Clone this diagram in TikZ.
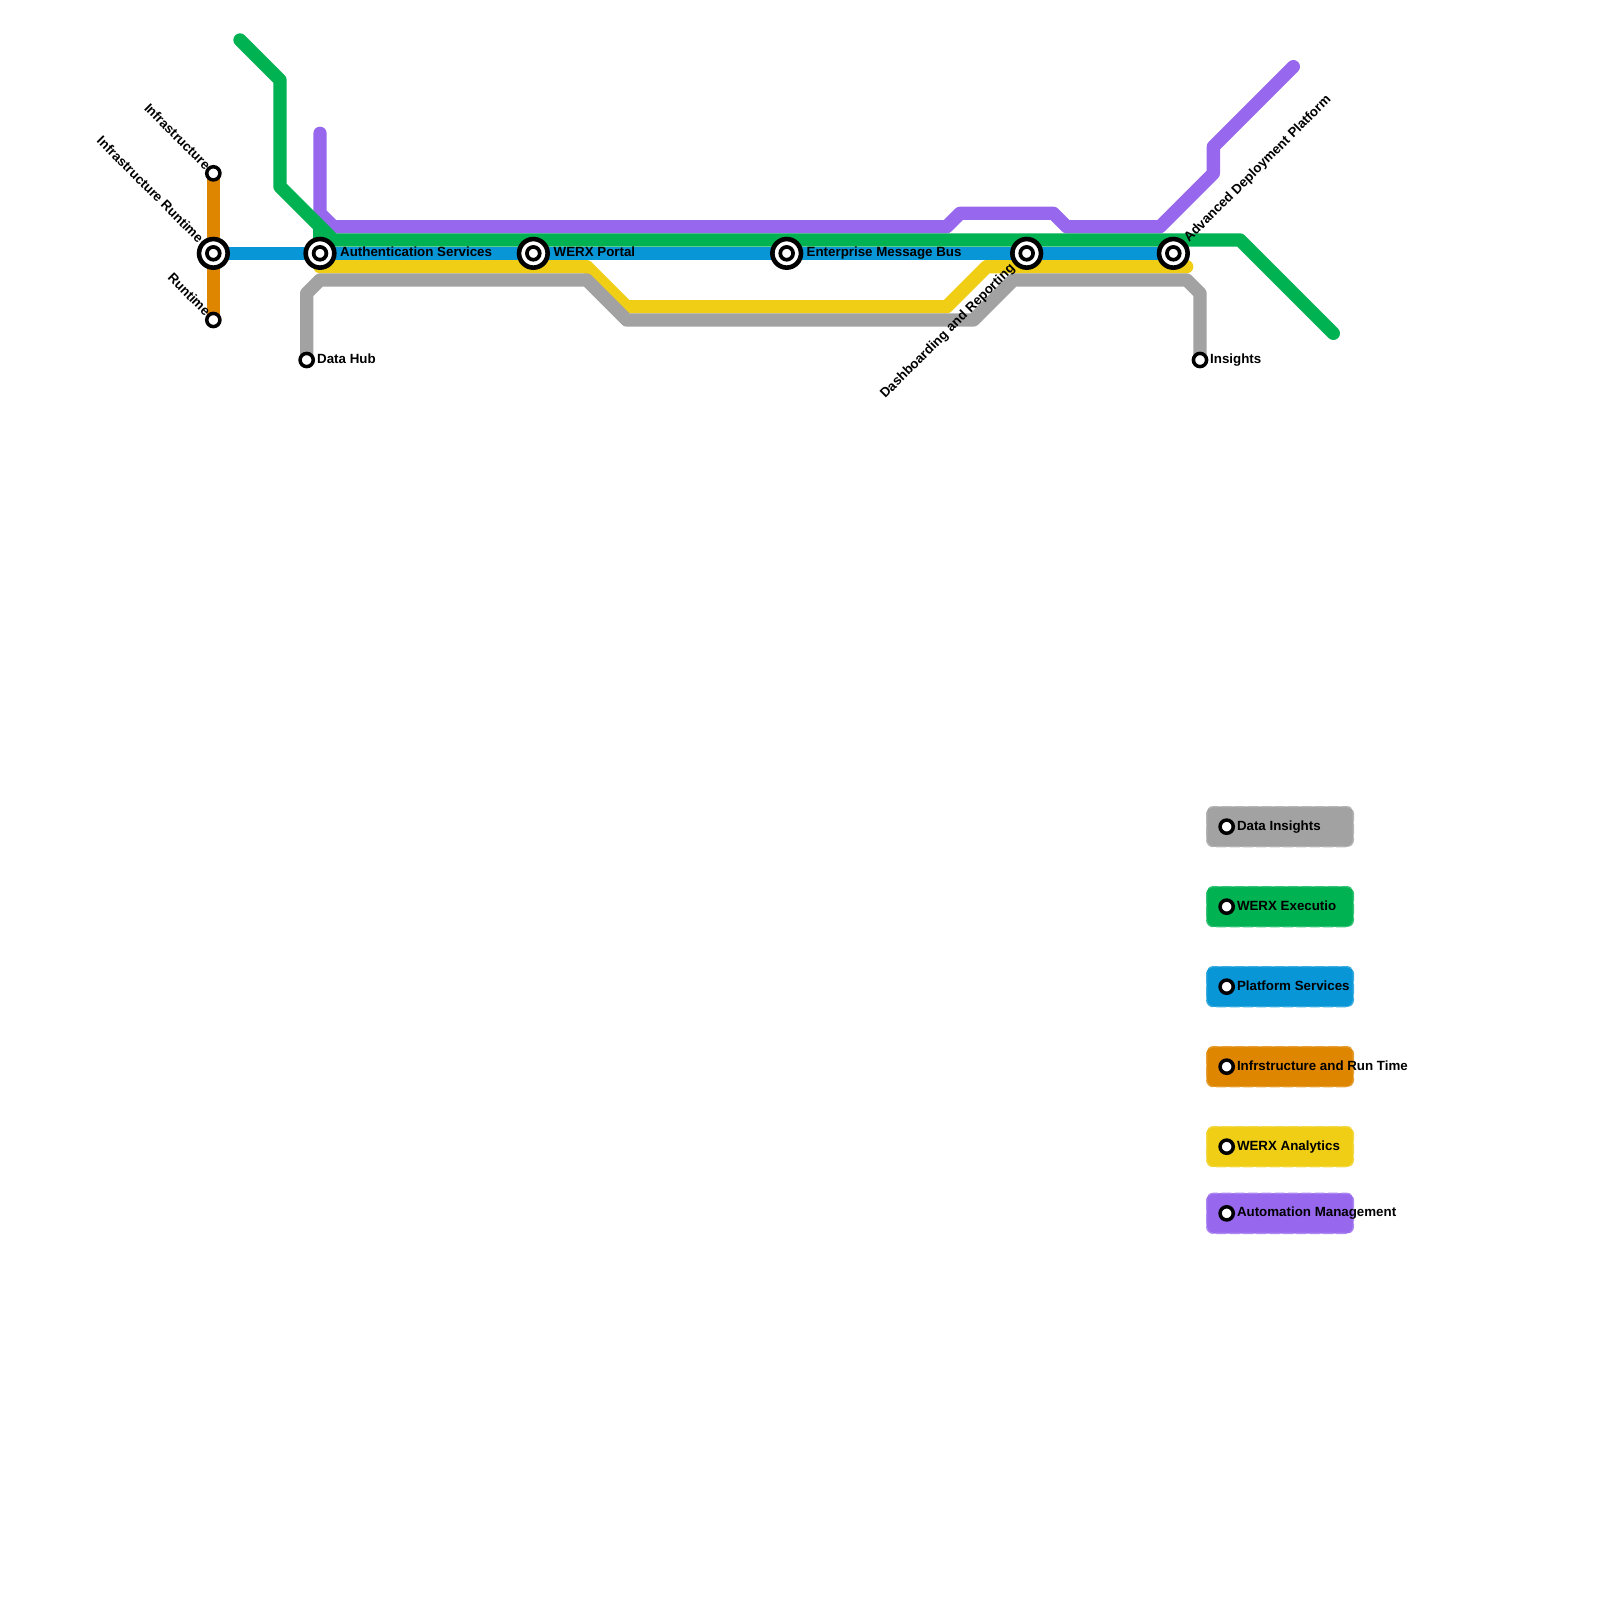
\documentclass[tikz,border=0pt]{standalone}
\usepackage{fontspec}
\setmainfont{Liberation Sans}
\definecolor{cGreen}{HTML}{00B251}
\definecolor{cBlue}{HTML}{0896D7}
\definecolor{cOrange}{HTML}{DF8600}
\definecolor{cYellow}{HTML}{F0CE15}
\definecolor{cGrey}{HTML}{A2A2A2}
\definecolor{cPurple}{HTML}{9768EE}
\tikzset{
  metro/.style={line width=13.33pt,line join=round,line cap=round},
  bigstop/.style={circle,draw=black,fill=white,line width=4.6pt,minimum size=28.6pt,inner sep=0pt},
  bigcore/.style={circle,draw=black,fill=white,line width=3.7pt,minimum size=12.8pt,inner sep=0pt},
  smallstop/.style={circle,draw=black,fill=white,line width=3.5pt,minimum size=13.2pt,inner sep=0pt},
  lbl/.style={font=\bfseries\fontsize{13.33}{15}\selectfont,text=black,inner sep=0pt},
  legendbox/.style={fill=#1,draw=#1!80!white,dash pattern=on 10pt off 3.33pt,line width=1.33pt,rounded corners=6.67pt},
}
\begin{document}
\begin{tikzpicture}[x=1pt,y=-1pt]
\useasboundingbox (0,0) rectangle (1600,1600);
% stations' and line vertices
\coordinate (sInfra) at (213.33,173.33);
\coordinate (sRun) at (213.33,320);
\coordinate (sIR) at (213.33,253.33);
\coordinate (sAuth) at (320,253.33);
\coordinate (sPortal) at (533.33,253.33);
\coordinate (sBus) at (786.67,253.33);
\coordinate (sDash) at (1026.67,253.33);
\coordinate (sAdv) at (1173.33,253.33);
\coordinate (sHub) at (306.67,360);
\coordinate (sIns) at (1200,360);
% purple
\draw[metro,cPurple] (320,133.33) -- (320,213.33) -- (333.33,226.67) -- (946.67,226.67) -- (960,213.33) -- (1053.33,213.33) -- (1066.67,226.67) -- (1160,226.67) -- (1213.33,173.33) -- (1213.33,146.67) -- (1293.33,66.67);
% yellow
\draw[metro,cYellow] (320,266.67) -- (586.67,266.67) -- (626.67,306.67) -- (946.67,306.67) -- (986.67,266.67) -- (1186.67,266.67);
% orange
\draw[metro,cOrange,line cap=butt] (sInfra) -- (sRun);
% blue
\draw[metro,cBlue,line cap=butt] (sIR) -- (sAdv);
% green
\draw[metro,cGreen] (240,40) -- (280,80) -- (280,186.67) -- (333.33,240) -- (1240,240) -- (1333.33,333.33);
\draw[metro,cGreen,line cap=butt] (320,226.67) -- (sAuth);
% grey
\draw[metro,cGrey,line cap=butt] (sHub) -- (306.67,293.33) -- (320,280) -- (586.67,280) -- (626.67,320) -- (973.33,320) -- (1013.33,280) -- (1186.67,280) -- (1200,293.33) -- (sIns);
% legend
\fill[cGrey,rounded corners=6.67pt] (1206.67,806.67) rectangle (1353.33,846.67);
\fill[cGreen,rounded corners=6.67pt] (1206.67,886.67) rectangle (1353.33,926.67);
\fill[cBlue,rounded corners=6.67pt] (1206.67,966.67) rectangle (1353.33,1006.67);
\fill[cOrange,rounded corners=6.67pt] (1206.67,1046.67) rectangle (1353.33,1086.67);
\fill[cYellow,rounded corners=6.67pt] (1206.67,1126.67) rectangle (1353.33,1166.67);
\fill[cPurple,rounded corners=6.67pt] (1206.67,1193.33) rectangle (1353.33,1233.33);
\draw[legendbox=cGrey] (1206.67,806.67) rectangle (1353.33,846.67);
\draw[legendbox=cGreen] (1206.67,886.67) rectangle (1353.33,926.67);
\draw[legendbox=cBlue] (1206.67,966.67) rectangle (1353.33,1006.67);
\draw[legendbox=cOrange] (1206.67,1046.67) rectangle (1353.33,1086.67);
\draw[legendbox=cYellow] (1206.67,1126.67) rectangle (1353.33,1166.67);
\draw[legendbox=cPurple] (1206.67,1193.33) rectangle (1353.33,1233.33);
% stops
\foreach \n in {sIR,sAuth,sPortal,sBus,sDash,sAdv}{
  \node[bigstop] (\n o) at (\n) {};
  \node[bigcore] (\n i) at (\n) {};
}
\node[smallstop] (nInfra) at (sInfra) {};
\node[smallstop] (nRun) at (sRun) {};
\node[smallstop] (nHub) at (sHub) {};
\node[smallstop] (nIns) at (sIns) {};
\node[smallstop] (k1) at (1226.67,826.67) {};
\node[smallstop] (k2) at (1226.67,906.67) {};
\node[smallstop] (k3) at (1226.67,986.67) {};
\node[smallstop] (k4) at (1226.67,1066.67) {};
\node[smallstop] (k5) at (1226.67,1146.67) {};
\node[smallstop] (k6) at (1226.67,1213.33) {};
% labels
\node[lbl,anchor=base west] (t1) at (340,256.8) {Authentication Services};
\node[lbl,anchor=base west] (t2) at (553.5,256.8) {WERX Portal};
\node[lbl,anchor=base west] (t3) at (806.5,256.8) {Enterprise Message Bus};
\node[lbl,anchor=base west] (t4) at (317,363.3) {Data Hub};
\node[lbl,anchor=base west] (t5) at (1210,363.3) {Insights};
\node[lbl,anchor=east,rotate=-45] (t6) at (208.3,167.3) {Infrastructure};
\node[lbl,anchor=east,rotate=-45] (t7) at (201.3,240.3) {Infrastructure Runtime};
\node[lbl,anchor=east,rotate=-45] (t8) at (208.3,313.3) {Runtime};
\node[lbl,anchor=east,rotate=45] (t9) at (1013,266.5) {Dashboarding and Reporting};
\node[lbl,anchor=west,rotate=45] (t10) at (1186.5,240.5) {Advanced Deployment Platform};
\node[lbl,anchor=base west] (l1) at (1236.8,830) {Data Insights};
\node[lbl,anchor=base west] (l2) at (1236.8,910) {WERX Executio};
\node[lbl,anchor=base west] (l3) at (1236.8,990) {Platform Services};
\node[lbl,anchor=base west] (l4) at (1236.8,1070) {Infrstructure and Run Time};
\node[lbl,anchor=base west] (l5) at (1236.8,1150) {WERX Analytics};
\node[lbl,anchor=base west] (l6) at (1236.8,1216.7) {Automation Management};
\end{tikzpicture}
\end{document}
